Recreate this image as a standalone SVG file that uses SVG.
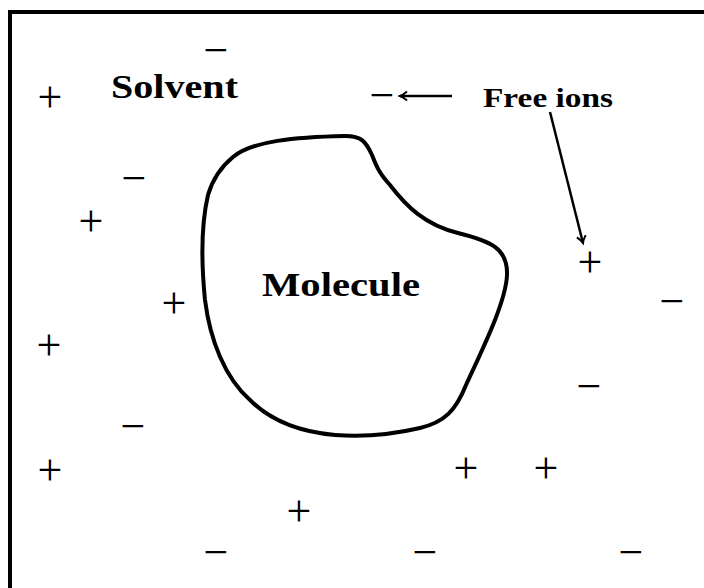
<svg xmlns="http://www.w3.org/2000/svg" width="704" height="588" viewBox="0 0 704 588">
<style>
.ion{font-family:"Liberation Serif",serif;font-size:44px;fill:#000;text-anchor:middle}
.lbl{font-family:"Liberation Serif",serif;font-weight:bold;fill:#000}
.frame{stroke:#000;stroke-width:4;fill:none}
.conn{stroke:#000;stroke-width:2.5;fill:none}
</style>
<defs>
<marker id="ah" viewBox="-10 -6 12 12" refX="0" refY="0" markerWidth="12" markerHeight="12" markerUnits="userSpaceOnUse" orient="auto">
<path d="M -7,-4.5 Q -3,-1 0,0 Q -3,1 -7,4.5" stroke="#000" stroke-width="2" fill="none"/>
</marker>
</defs>
<rect width="704" height="588" fill="#fff"/>
<path class="frame" d="M 10,588 L 10,12 L 704,12"/>
<g id="molecule">
<path d="M 233,157 C 252,141 295,137 345,136 C 362,136 366,142 372,155 C 377,168 380,174 390,185 C 406,206 425,225 458,233 C 490,241 508,248 507,275 C 506,302 482,350 466,385 C 456,410 445,422 420,428 C 390,435 360,437 335,435 C 300,432 270,420 250,400 C 225,378 210,340 205,300 C 201,260 201,225 208,195 C 213,178 222,166 233,157 Z" stroke="#000" stroke-width="4" fill="none"/>
<text class="lbl" x="341" y="296" font-size="34" text-anchor="middle" textLength="158" lengthAdjust="spacingAndGlyphs">Molecule</text>
</g>
<g id="solvent">
<text class="lbl" x="111" y="98" font-size="34" textLength="127" lengthAdjust="spacingAndGlyphs">Solvent</text>
</g>
<g id="free-ions">
<text class="lbl" x="483" y="107" font-size="28" textLength="130" lengthAdjust="spacingAndGlyphs">Free ions</text>
</g>
<g id="ions">
<text class="ion" x="216" y="65">−</text>
<text class="ion" x="382" y="110">−</text>
<text class="ion" x="134" y="193">−</text>
<text class="ion" x="672" y="316">−</text>
<text class="ion" x="589" y="401">−</text>
<text class="ion" x="133" y="441">−</text>
<text class="ion" x="216" y="567">−</text>
<text class="ion" x="425" y="567">−</text>
<text class="ion" x="631" y="567">−</text>
<text class="ion" x="50" y="112">+</text>
<text class="ion" x="91" y="236">+</text>
<text class="ion" x="174" y="318">+</text>
<text class="ion" x="49" y="360">+</text>
<text class="ion" x="50" y="485">+</text>
<text class="ion" x="590" y="277">+</text>
<text class="ion" x="466" y="483">+</text>
<text class="ion" x="546" y="483">+</text>
<text class="ion" x="299" y="526">+</text>
</g>
<g id="connectors">
<line class="conn" x1="452" y1="96" x2="400" y2="96" marker-end="url(#ah)"/>
<line class="conn" x1="550" y1="112" x2="583" y2="243" marker-end="url(#ah)"/>
</g>
</svg>
